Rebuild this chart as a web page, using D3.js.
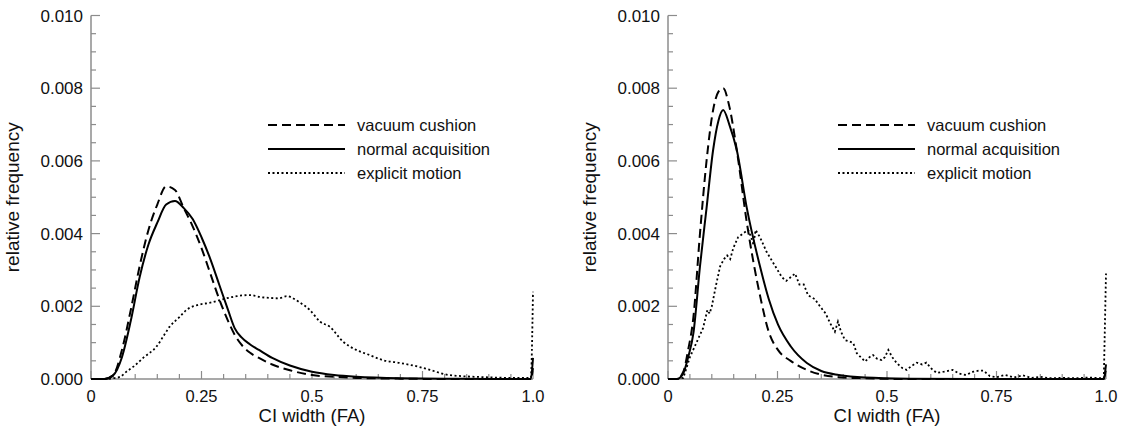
<!DOCTYPE html>
<html>
<head>
<meta charset="utf-8">
<script src="https://cdn.jsdelivr.net/npm/d3@7"></script>
<style>
  body { margin: 0; background: #fff; }
  text { font-family: "Liberation Sans", Arial, sans-serif; fill: #111; }
</style>
</head>
<body>
<div id="chart"></div>
<script>
// legend labels
const seriesNames = ['vacuum cushion', 'normal acquisition', 'explicit motion'];

// x ticks / y ticks
const xMajorTicks = [0, 0.25, 0.5, 0.75, 1.0];
const xTickLabels = ['0', '0.25', '0.5', '0.75', '1.0'];
const yMajorTicks = [0, 0.002, 0.004, 0.006, 0.008, 0.010];

// left panel, smooth curves on a shared grid
const leftGrid = [0, 0.03, 0.05, 0.07, 0.09, 0.11, 0.13, 0.15, 0.17, 0.19, 0.21, 0.23, 0.25, 0.27, 0.29, 0.31, 0.325, 0.34, 0.36, 0.38, 0.41, 0.45, 0.50, 0.55, 0.60, 0.70, 0.80, 0.90, 0.995, 1.0];
const leftVacuum = [0, 0, 0.0001, 0.0008, 0.0019, 0.0031, 0.0041, 0.0048, 0.0053, 0.0052, 0.0047, 0.0042, 0.0036, 0.0029, 0.0022, 0.0016, 0.00122, 0.00095, 0.00072, 0.00058, 0.0004, 0.00024, 0.00011, 0.00006, 0.00003, 0.00001, 0, 0, 0, 0.0003];
const leftNormal = [0, 0, 0.0001, 0.0006, 0.0016, 0.0028, 0.0037, 0.0043, 0.0048, 0.0049, 0.0047, 0.0044, 0.0039, 0.0033, 0.0026, 0.0019, 0.0014, 0.00115, 0.00095, 0.0008, 0.00058, 0.00037, 0.0002, 0.00011, 0.00006, 0.00002, 0.00001, 0, 0, 0.00058];

// left panel, explicit motion
const leftMotionX = [0, 0.03, 0.05, 0.066, 0.08, 0.096, 0.12, 0.148, 0.165, 0.178, 0.2, 0.216, 0.243, 0.27, 0.3, 0.33, 0.36, 0.38, 0.405, 0.425, 0.443, 0.46, 0.473, 0.495, 0.518, 0.54, 0.57, 0.6, 0.63, 0.66, 0.7, 0.74, 0.767, 0.81, 0.89, 0.96, 0.995, 1.0];
const leftMotion = [0, 0, 0.00002, 0.00006, 0.0002, 0.00034, 0.0006, 0.00089, 0.0012, 0.00144, 0.0017, 0.0019, 0.00204, 0.0021, 0.0022, 0.00228, 0.00231, 0.00226, 0.00223, 0.00222, 0.00228, 0.0022, 0.0021, 0.0019, 0.00158, 0.00144, 0.00103, 0.0008, 0.00066, 0.00052, 0.00044, 0.00034, 0.00025, 0.00011, 0.00005, 0.00003, 0.00003, 0.0024];

// right panel, smooth curves on a shared grid
const rightGrid = [0, 0.02, 0.035, 0.046, 0.058, 0.073, 0.088, 0.103, 0.115, 0.126, 0.14, 0.157, 0.18, 0.21, 0.23, 0.251, 0.28, 0.317, 0.35, 0.39, 0.45, 0.55, 0.7, 0.995, 1.0];
const rightVacuum = [0, 0, 0.0002, 0.0008, 0.0017, 0.0040, 0.0060, 0.0074, 0.0079, 0.0080, 0.0075, 0.0063, 0.0043, 0.0023, 0.0013, 0.0008, 0.0005, 0.00025, 0.00012, 0.00005, 0.00002, 0, 0, 0, 0.0003];
const rightNormal = [0, 0, 0.00016, 0.0006, 0.00126, 0.0031, 0.0047, 0.0063, 0.0071, 0.0074, 0.0070, 0.0063, 0.0047, 0.0031, 0.0022, 0.0015, 0.0009, 0.00044, 0.00022, 0.00011, 0.00004, 0.00001, 0, 0, 0.0004];

// right panel, explicit motion (noisy)
const rightMotionX = [0, 0.02, 0.035, 0.05, 0.065, 0.08, 0.09, 0.095, 0.1, 0.11, 0.119, 0.128, 0.135, 0.142, 0.149, 0.16, 0.171, 0.183, 0.19, 0.195, 0.2, 0.21, 0.225, 0.24, 0.25, 0.26, 0.27, 0.28, 0.29, 0.3, 0.31, 0.32, 0.335, 0.347, 0.36, 0.37, 0.381, 0.388, 0.395, 0.404, 0.415, 0.423, 0.431, 0.44, 0.45, 0.46, 0.468, 0.478, 0.488, 0.495, 0.503, 0.512, 0.522, 0.535, 0.545, 0.555, 0.568, 0.58, 0.59, 0.6, 0.613, 0.63, 0.65, 0.665, 0.68, 0.697, 0.71, 0.72, 0.735, 0.75, 0.77, 0.79, 0.81, 0.83, 0.85, 0.87, 0.9, 0.93, 0.96, 0.995, 1.0];
const rightMotion = [0, 0, 0.00003, 0.0006, 0.001, 0.0014, 0.0019, 0.0018, 0.002, 0.0026, 0.0031, 0.0033, 0.0034, 0.0033, 0.0036, 0.0039, 0.004, 0.0041, 0.0039, 0.0037, 0.0041, 0.0039, 0.0035, 0.0032, 0.003, 0.0028, 0.0027, 0.0028, 0.0029, 0.0026, 0.0026, 0.0023, 0.0022, 0.002, 0.0018, 0.00154, 0.0013, 0.00158, 0.0013, 0.00107, 0.00103, 0.00099, 0.00071, 0.0006, 0.00048, 0.0006, 0.00066, 0.00055, 0.00052, 0.0006, 0.0008, 0.0006, 0.00044, 0.0003, 0.00025, 0.00035, 0.00045, 0.0004, 0.00045, 0.0003, 0.00017, 0.0002, 0.00025, 0.00015, 0.00011, 0.0002, 0.00023, 0.00023, 0.00008, 0.00005, 0.00011, 0.00004, 0.0001, 0.00003, 0.00006, 0.00002, 0.00003, 0.00002, 0.00004, 0.00002, 0.0029];

const W = 1132, H = 431;
const axisColor = '#8c8c8c';
const dashStyles = ['9,5', null, '2,2.5'];

const svg = d3.select('#chart').append('svg')
  .attr('width', W)
  .attr('height', H)
  .style('background', '#fff');

function drawPanel(opts) {
  const x = d3.scaleLinear().domain([0, 1]).range([opts.x0, opts.x1]);
  const y = d3.scaleLinear().domain([0, 0.010]).range([379, 15.5]);
  const g = svg.append('g');

  // axis lines
  g.append('line').attr('x1', opts.x0).attr('x2', opts.x0).attr('y1', y(0)).attr('y2', y(0.010))
    .attr('stroke', axisColor).attr('stroke-width', 1.5);
  g.append('line').attr('x1', opts.x0).attr('x2', opts.x1).attr('y1', y(0)).attr('y2', y(0))
    .attr('stroke', axisColor).attr('stroke-width', 1.5);

  // y ticks (inside, pointing right)
  const yMinor = d3.range(0, 21).map(i => i * 0.0005);
  g.selectAll('.ytick').data(yMinor).join('line')
    .attr('x1', opts.x0)
    .attr('x2', (d, i) => opts.x0 + (i % 4 === 0 ? 9 : 5))
    .attr('y1', d => y(d)).attr('y2', d => y(d))
    .attr('stroke', axisColor).attr('stroke-width', 1.2);
  g.selectAll('.ylab').data(yMajorTicks).join('text')
    .attr('x', opts.x0 - 8)
    .attr('y', d => y(d))
    .attr('dy', '0.36em')
    .attr('text-anchor', 'end')
    .style('font-size', '17px')
    .text(d => d3.format('.3f')(d));

  // x ticks (inside, pointing up)
  const xMinor = d3.range(0, 21).map(i => i * 0.05);
  g.selectAll('.xtick').data(xMinor).join('line')
    .attr('x1', d => x(d)).attr('x2', d => x(d))
    .attr('y1', y(0))
    .attr('y2', (d, i) => y(0) - (i % 5 === 0 ? 8 : 5))
    .attr('stroke', axisColor).attr('stroke-width', 1.2);
  g.selectAll('.xlab').data(xMajorTicks).join('text')
    .attr('x', d => x(d))
    .attr('y', 402)
    .attr('text-anchor', 'middle')
    .style('font-size', '16.5px')
    .text((d, i) => xTickLabels[i]);

  // axis titles
  g.append('text')
    .attr('x', (opts.x0 + opts.x1) / 2)
    .attr('y', 422)
    .attr('text-anchor', 'middle')
    .style('font-size', '18.5px')
    .text('CI width (FA)');
  g.append('text')
    .attr('transform', `translate(${opts.x0 - 72},${(y(0) + y(0.010)) / 2}) rotate(-90)`)
    .attr('text-anchor', 'middle')
    .style('font-size', '19px')
    .text('relative frequency');

  // curves
  const line = d3.line()
    .x(d => x(d[0]))
    .y(d => y(d[1]));
  opts.series.forEach((s, i) => {
    g.append('path')
      .datum(s.xs.map((v, k) => [v, s.ys[k]]))
      .attr('d', line.curve(s.jagged ? d3.curveLinear : d3.curveMonotoneX))
      .attr('fill', 'none')
      .attr('stroke', '#000')
      .attr('stroke-width', i === 2 ? 1.8 : 2)
      .attr('stroke-dasharray', dashStyles[i]);
  });

  // legend
  const leg = g.append('g');
  seriesNames.forEach((name, i) => {
    const ly = 125 + i * 24;
    leg.append('line')
      .attr('x1', opts.legX).attr('x2', opts.legX + 77)
      .attr('y1', ly).attr('y2', ly)
      .attr('stroke', '#000')
      .attr('stroke-width', i === 2 ? 1.8 : 2)
      .attr('stroke-dasharray', dashStyles[i]);
    leg.append('text')
      .attr('x', opts.legX + 89)
      .attr('y', ly)
      .attr('dy', '0.36em')
      .style('font-size', '16.5px')
      .text(name);
  });
}

drawPanel({
  x0: 91, x1: 533, legX: 268,
  series: [
    { xs: leftGrid, ys: leftVacuum },
    { xs: leftGrid, ys: leftNormal },
    { xs: leftMotionX, ys: leftMotion }
  ]
});

drawPanel({
  x0: 668, x1: 1106, legX: 838,
  series: [
    { xs: rightGrid, ys: rightVacuum },
    { xs: rightGrid, ys: rightNormal },
    { xs: rightMotionX, ys: rightMotion, jagged: true }
  ]
});
</script>
</body>
</html>
